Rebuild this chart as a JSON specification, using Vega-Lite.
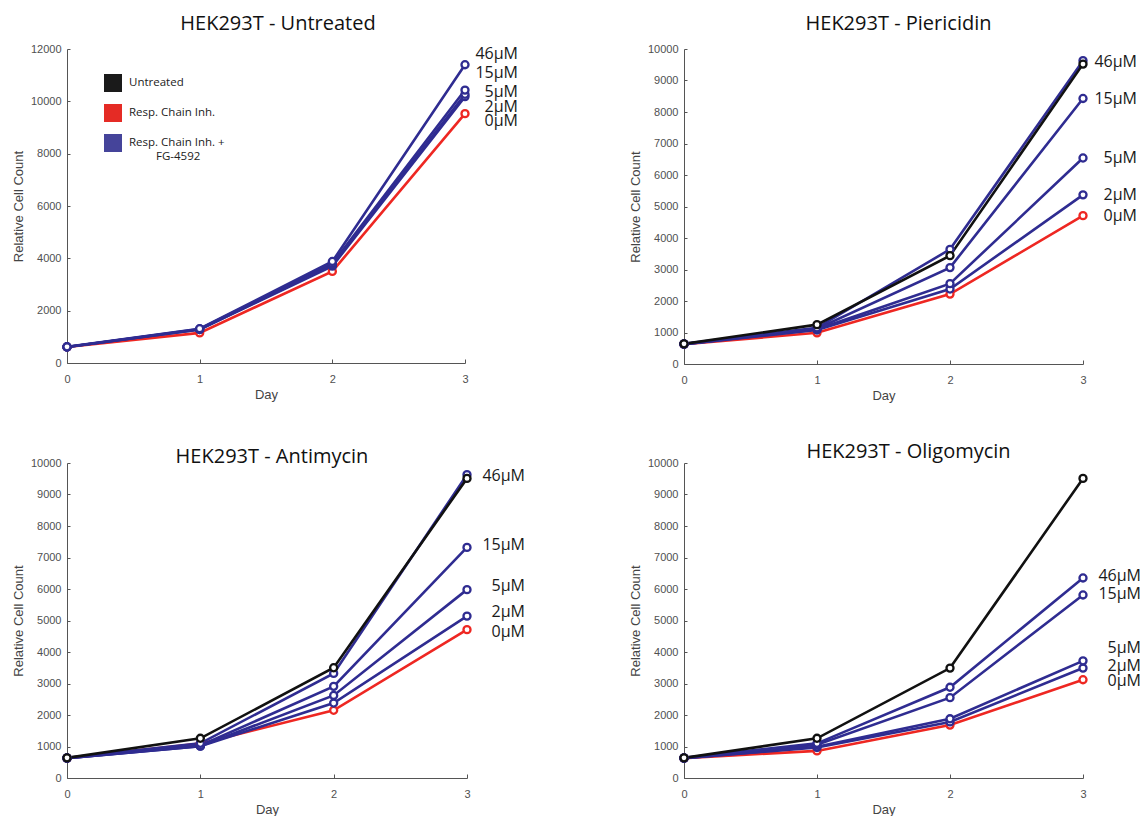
{
  "$schema": "https://vega.github.io/schema/vega-lite/v6.json",
  "background": "white",
  "padding": {"left": 12, "top": 14, "right": 0, "bottom": 0},
  "bounds": "flush",
  "columns": 2,
  "spacing": {"row": 99, "column": 217},
  "resolve": {"scale": {"color": "independent"}},
  "config": {
    "view": {"stroke": null},
    "font": "Open Sans",
    "axis": {
      "grid": false,
      "domainColor": "#555555",
      "tickColor": "#555555",
      "labelColor": "#505050",
      "titleColor": "#444444",
      "labelFont": "Liberation Sans",
      "titleFont": "Liberation Sans",
      "labelFontSize": 11,
      "titleFontSize": 13,
      "titleFontWeight": "normal",
      "labelFlush": false,
      "labelOverlap": false
    },
    "axisX": {"tickSize": -4, "labelPadding": 14, "titlePadding": 4},
    "axisY": {"tickSize": -3, "labelPadding": 9, "titlePadding": 5},
    "title": {"font": "Open Sans", "fontSize": 20, "fontWeight": "normal", "color": "#111111", "frame": "group"}
  },
  "datasets": {
    "series": [
      {"panel": "U", "series": "0µM", "group": "Resp. Chain Inh.", "day": 0, "value": 610},
      {"panel": "U", "series": "0µM", "group": "Resp. Chain Inh.", "day": 1, "value": 1150},
      {"panel": "U", "series": "0µM", "group": "Resp. Chain Inh.", "day": 2, "value": 3500},
      {"panel": "U", "series": "0µM", "group": "Resp. Chain Inh.", "day": 3, "value": 9530},
      {"panel": "U", "series": "2µM", "group": "Resp. Chain Inh. + FG-4592", "day": 0, "value": 610},
      {"panel": "U", "series": "2µM", "group": "Resp. Chain Inh. + FG-4592", "day": 1, "value": 1280},
      {"panel": "U", "series": "2µM", "group": "Resp. Chain Inh. + FG-4592", "day": 2, "value": 3700},
      {"panel": "U", "series": "2µM", "group": "Resp. Chain Inh. + FG-4592", "day": 3, "value": 10180},
      {"panel": "U", "series": "5µM", "group": "Resp. Chain Inh. + FG-4592", "day": 0, "value": 610},
      {"panel": "U", "series": "5µM", "group": "Resp. Chain Inh. + FG-4592", "day": 1, "value": 1280},
      {"panel": "U", "series": "5µM", "group": "Resp. Chain Inh. + FG-4592", "day": 2, "value": 3750},
      {"panel": "U", "series": "5µM", "group": "Resp. Chain Inh. + FG-4592", "day": 3, "value": 10270},
      {"panel": "U", "series": "15µM", "group": "Resp. Chain Inh. + FG-4592", "day": 0, "value": 610},
      {"panel": "U", "series": "15µM", "group": "Resp. Chain Inh. + FG-4592", "day": 1, "value": 1300},
      {"panel": "U", "series": "15µM", "group": "Resp. Chain Inh. + FG-4592", "day": 2, "value": 3800},
      {"panel": "U", "series": "15µM", "group": "Resp. Chain Inh. + FG-4592", "day": 3, "value": 10430},
      {"panel": "U", "series": "46µM", "group": "Resp. Chain Inh. + FG-4592", "day": 0, "value": 620},
      {"panel": "U", "series": "46µM", "group": "Resp. Chain Inh. + FG-4592", "day": 1, "value": 1310},
      {"panel": "U", "series": "46µM", "group": "Resp. Chain Inh. + FG-4592", "day": 2, "value": 3880},
      {"panel": "U", "series": "46µM", "group": "Resp. Chain Inh. + FG-4592", "day": 3, "value": 11400},

      {"panel": "P", "series": "0µM", "group": "Resp. Chain Inh.", "day": 0, "value": 630},
      {"panel": "P", "series": "0µM", "group": "Resp. Chain Inh.", "day": 1, "value": 990},
      {"panel": "P", "series": "0µM", "group": "Resp. Chain Inh.", "day": 2, "value": 2220},
      {"panel": "P", "series": "0µM", "group": "Resp. Chain Inh.", "day": 3, "value": 4710},
      {"panel": "P", "series": "2µM", "group": "Resp. Chain Inh. + FG-4592", "day": 0, "value": 630},
      {"panel": "P", "series": "2µM", "group": "Resp. Chain Inh. + FG-4592", "day": 1, "value": 1080},
      {"panel": "P", "series": "2µM", "group": "Resp. Chain Inh. + FG-4592", "day": 2, "value": 2380},
      {"panel": "P", "series": "2µM", "group": "Resp. Chain Inh. + FG-4592", "day": 3, "value": 5370},
      {"panel": "P", "series": "5µM", "group": "Resp. Chain Inh. + FG-4592", "day": 0, "value": 630},
      {"panel": "P", "series": "5µM", "group": "Resp. Chain Inh. + FG-4592", "day": 1, "value": 1100},
      {"panel": "P", "series": "5µM", "group": "Resp. Chain Inh. + FG-4592", "day": 2, "value": 2550},
      {"panel": "P", "series": "5µM", "group": "Resp. Chain Inh. + FG-4592", "day": 3, "value": 6540},
      {"panel": "P", "series": "15µM", "group": "Resp. Chain Inh. + FG-4592", "day": 0, "value": 630},
      {"panel": "P", "series": "15µM", "group": "Resp. Chain Inh. + FG-4592", "day": 1, "value": 1120},
      {"panel": "P", "series": "15µM", "group": "Resp. Chain Inh. + FG-4592", "day": 2, "value": 3060},
      {"panel": "P", "series": "15µM", "group": "Resp. Chain Inh. + FG-4592", "day": 3, "value": 8430},
      {"panel": "P", "series": "46µM", "group": "Resp. Chain Inh. + FG-4592", "day": 0, "value": 640},
      {"panel": "P", "series": "46µM", "group": "Resp. Chain Inh. + FG-4592", "day": 1, "value": 1150},
      {"panel": "P", "series": "46µM", "group": "Resp. Chain Inh. + FG-4592", "day": 2, "value": 3640},
      {"panel": "P", "series": "46µM", "group": "Resp. Chain Inh. + FG-4592", "day": 3, "value": 9630},
      {"panel": "P", "series": "Untreated", "group": "Untreated", "day": 0, "value": 640},
      {"panel": "P", "series": "Untreated", "group": "Untreated", "day": 1, "value": 1250},
      {"panel": "P", "series": "Untreated", "group": "Untreated", "day": 2, "value": 3440},
      {"panel": "P", "series": "Untreated", "group": "Untreated", "day": 3, "value": 9520},

      {"panel": "A", "series": "0µM", "group": "Resp. Chain Inh.", "day": 0, "value": 630},
      {"panel": "A", "series": "0µM", "group": "Resp. Chain Inh.", "day": 1, "value": 1090},
      {"panel": "A", "series": "0µM", "group": "Resp. Chain Inh.", "day": 2, "value": 2150},
      {"panel": "A", "series": "0µM", "group": "Resp. Chain Inh.", "day": 3, "value": 4710},
      {"panel": "A", "series": "2µM", "group": "Resp. Chain Inh. + FG-4592", "day": 0, "value": 630},
      {"panel": "A", "series": "2µM", "group": "Resp. Chain Inh. + FG-4592", "day": 1, "value": 1010},
      {"panel": "A", "series": "2µM", "group": "Resp. Chain Inh. + FG-4592", "day": 2, "value": 2380},
      {"panel": "A", "series": "2µM", "group": "Resp. Chain Inh. + FG-4592", "day": 3, "value": 5140},
      {"panel": "A", "series": "5µM", "group": "Resp. Chain Inh. + FG-4592", "day": 0, "value": 630},
      {"panel": "A", "series": "5µM", "group": "Resp. Chain Inh. + FG-4592", "day": 1, "value": 1010},
      {"panel": "A", "series": "5µM", "group": "Resp. Chain Inh. + FG-4592", "day": 2, "value": 2620},
      {"panel": "A", "series": "5µM", "group": "Resp. Chain Inh. + FG-4592", "day": 3, "value": 5980},
      {"panel": "A", "series": "15µM", "group": "Resp. Chain Inh. + FG-4592", "day": 0, "value": 630},
      {"panel": "A", "series": "15µM", "group": "Resp. Chain Inh. + FG-4592", "day": 1, "value": 1030},
      {"panel": "A", "series": "15µM", "group": "Resp. Chain Inh. + FG-4592", "day": 2, "value": 2910},
      {"panel": "A", "series": "15µM", "group": "Resp. Chain Inh. + FG-4592", "day": 3, "value": 7320},
      {"panel": "A", "series": "46µM", "group": "Resp. Chain Inh. + FG-4592", "day": 0, "value": 640},
      {"panel": "A", "series": "46µM", "group": "Resp. Chain Inh. + FG-4592", "day": 1, "value": 1100},
      {"panel": "A", "series": "46µM", "group": "Resp. Chain Inh. + FG-4592", "day": 2, "value": 3320},
      {"panel": "A", "series": "46µM", "group": "Resp. Chain Inh. + FG-4592", "day": 3, "value": 9630},
      {"panel": "A", "series": "Untreated", "group": "Untreated", "day": 0, "value": 640},
      {"panel": "A", "series": "Untreated", "group": "Untreated", "day": 1, "value": 1260},
      {"panel": "A", "series": "Untreated", "group": "Untreated", "day": 2, "value": 3500},
      {"panel": "A", "series": "Untreated", "group": "Untreated", "day": 3, "value": 9510},

      {"panel": "O", "series": "0µM", "group": "Resp. Chain Inh.", "day": 0, "value": 630},
      {"panel": "O", "series": "0µM", "group": "Resp. Chain Inh.", "day": 1, "value": 860},
      {"panel": "O", "series": "0µM", "group": "Resp. Chain Inh.", "day": 2, "value": 1680},
      {"panel": "O", "series": "0µM", "group": "Resp. Chain Inh.", "day": 3, "value": 3120},
      {"panel": "O", "series": "2µM", "group": "Resp. Chain Inh. + FG-4592", "day": 0, "value": 630},
      {"panel": "O", "series": "2µM", "group": "Resp. Chain Inh. + FG-4592", "day": 1, "value": 970},
      {"panel": "O", "series": "2µM", "group": "Resp. Chain Inh. + FG-4592", "day": 2, "value": 1780},
      {"panel": "O", "series": "2µM", "group": "Resp. Chain Inh. + FG-4592", "day": 3, "value": 3490},
      {"panel": "O", "series": "5µM", "group": "Resp. Chain Inh. + FG-4592", "day": 0, "value": 630},
      {"panel": "O", "series": "5µM", "group": "Resp. Chain Inh. + FG-4592", "day": 1, "value": 990},
      {"panel": "O", "series": "5µM", "group": "Resp. Chain Inh. + FG-4592", "day": 2, "value": 1880},
      {"panel": "O", "series": "5µM", "group": "Resp. Chain Inh. + FG-4592", "day": 3, "value": 3720},
      {"panel": "O", "series": "15µM", "group": "Resp. Chain Inh. + FG-4592", "day": 0, "value": 630},
      {"panel": "O", "series": "15µM", "group": "Resp. Chain Inh. + FG-4592", "day": 1, "value": 1060},
      {"panel": "O", "series": "15µM", "group": "Resp. Chain Inh. + FG-4592", "day": 2, "value": 2550},
      {"panel": "O", "series": "15µM", "group": "Resp. Chain Inh. + FG-4592", "day": 3, "value": 5810},
      {"panel": "O", "series": "46µM", "group": "Resp. Chain Inh. + FG-4592", "day": 0, "value": 640},
      {"panel": "O", "series": "46µM", "group": "Resp. Chain Inh. + FG-4592", "day": 1, "value": 1100},
      {"panel": "O", "series": "46µM", "group": "Resp. Chain Inh. + FG-4592", "day": 2, "value": 2880},
      {"panel": "O", "series": "46µM", "group": "Resp. Chain Inh. + FG-4592", "day": 3, "value": 6350},
      {"panel": "O", "series": "Untreated", "group": "Untreated", "day": 0, "value": 640},
      {"panel": "O", "series": "Untreated", "group": "Untreated", "day": 1, "value": 1260},
      {"panel": "O", "series": "Untreated", "group": "Untreated", "day": 2, "value": 3490},
      {"panel": "O", "series": "Untreated", "group": "Untreated", "day": 3, "value": 9510}
    ],
    "labels": [
      {"panel": "U", "label": "46µM", "day": 3, "value": 11800},
      {"panel": "U", "label": "15µM", "day": 3, "value": 11070},
      {"panel": "U", "label": "5µM", "day": 3, "value": 10370},
      {"panel": "U", "label": "2µM", "day": 3, "value": 9800},
      {"panel": "U", "label": "0µM", "day": 3, "value": 9250},
      {"panel": "P", "label": "46µM", "day": 3, "value": 9600},
      {"panel": "P", "label": "15µM", "day": 3, "value": 8420},
      {"panel": "P", "label": "5µM", "day": 3, "value": 6530},
      {"panel": "P", "label": "2µM", "day": 3, "value": 5370},
      {"panel": "P", "label": "0µM", "day": 3, "value": 4700},
      {"panel": "A", "label": "46µM", "day": 3, "value": 9600},
      {"panel": "A", "label": "15µM", "day": 3, "value": 7400},
      {"panel": "A", "label": "5µM", "day": 3, "value": 6080},
      {"panel": "A", "label": "2µM", "day": 3, "value": 5260},
      {"panel": "A", "label": "0µM", "day": 3, "value": 4650},
      {"panel": "O", "label": "46µM", "day": 3, "value": 6420},
      {"panel": "O", "label": "15µM", "day": 3, "value": 5840},
      {"panel": "O", "label": "5µM", "day": 3, "value": 4120},
      {"panel": "O", "label": "2µM", "day": 3, "value": 3570},
      {"panel": "O", "label": "0µM", "day": 3, "value": 3070}
    ]
  },
  "concat": [
    {
      "title": {"text": "HEK293T - Untreated", "offset": 9, "dx": 12},
      "width": 398, "height": 314,
      "encoding": {
        "x": {"field": "day", "type": "quantitative", "scale": {"domain": [0, 3], "nice": false},
              "axis": {"title": "Day", "values": [0, 0.5, 1, 1.5, 2, 2.5, 3], "format": "d", "labelOverlap": false, "labelExpr": "datum.value % 1 == 0 ? datum.label : ''"}},
        "y": {"field": "value", "type": "quantitative", "scale": {"domain": [0, 12000], "nice": false},
              "axis": {"title": "Relative Cell Count", "values": [0, 2000, 4000, 6000, 8000, 10000, 12000], "tickCount": 7, "format": "d", "labelOverlap": false}}
      },
      "layer": [
        {
          "data": {"name": "series"},
          "transform": [{"filter": "datum.panel == 'U'"}],
          "mark": {"type": "line", "strokeWidth": 2.6},
          "encoding": {
            "color": {"field": "group", "type": "nominal",
                      "scale": {"domain": ["Untreated", "Resp. Chain Inh.", "Resp. Chain Inh. + FG-4592"], "range": ["#111111", "#ee2722", "#2f2c91"]},
                      "legend": {
                        "title": null, "orient": "none", "legendX": 37, "legendY": 25, "padding": 0,
                        "symbolType": "square", "symbolSize": 324, "symbolStrokeWidth": 0,
                        "labelFont": "Open Sans", "labelFontSize": 11.5, "labelColor": "#222222", "labelOffset": 7,
                        "rowPadding": 12, "labelLimit": 300,
                        "labelExpr": "datum.label == 'Resp. Chain Inh. + FG-4592' ? ['Resp. Chain Inh. +', '\u2800\u2800\u2800FG-4592'] : datum.label",
                        "encode": {
                          "symbols": {"update": {"fill": {"signal": "datum.value == 'Untreated' ? '#1a1a1a' : datum.value == 'Resp. Chain Inh.' ? '#e52b25' : '#45449a'"}, "stroke": {"value": "transparent"}, "shape": {"value": "square"}}},
                          "labels": {"update": {"lineHeight": {"value": 14}}}
                        }
                      }},
            "detail": {"field": "series"}
          }
        },
        {
          "data": {"name": "series"},
          "transform": [{"filter": "datum.panel == 'U'"}],
          "mark": {"type": "point", "filled": false, "fill": "white", "size": 50, "strokeWidth": 2.3, "opacity": 1},
          "encoding": {
            "color": {"field": "group", "type": "nominal", "legend": null},
            "detail": {"field": "series"}
          }
        },
        {
          "data": {"name": "labels"},
          "transform": [{"filter": "datum.panel == 'U'"}],
          "mark": {"type": "text", "align": "right", "baseline": "middle", "dx": 53, "fontSize": 16, "font": "Open Sans", "color": "#1a1a1a"},
          "encoding": {"text": {"field": "label"}}
        }
      ]
    },
    {
      "title": {"text": "HEK293T - Piericidin", "offset": 9, "dx": 15},
      "width": 399, "height": 315,
      "encoding": {
        "x": {"field": "day", "type": "quantitative", "scale": {"domain": [0, 3], "nice": false},
              "axis": {"title": "Day", "values": [0, 0.5, 1, 1.5, 2, 2.5, 3], "format": "d", "labelOverlap": false, "labelExpr": "datum.value % 1 == 0 ? datum.label : ''"}},
        "y": {"field": "value", "type": "quantitative", "scale": {"domain": [0, 10000], "nice": false},
              "axis": {"title": "Relative Cell Count", "values": [0, 1000, 2000, 3000, 4000, 5000, 6000, 7000, 8000, 9000, 10000], "tickCount": 11, "format": "d", "labelOverlap": false}}
      },
      "layer": [
        {
          "data": {"name": "series"},
          "transform": [{"filter": "datum.panel == 'P'"}],
          "mark": {"type": "line", "strokeWidth": 2.6},
          "encoding": {
            "color": {"field": "group", "type": "nominal",
                      "scale": {"domain": ["Untreated", "Resp. Chain Inh.", "Resp. Chain Inh. + FG-4592"], "range": ["#111111", "#ee2722", "#2f2c91"]},
                      "legend": null},
            "detail": {"field": "series"}
          }
        },
        {
          "data": {"name": "series"},
          "transform": [{"filter": "datum.panel == 'P'"}],
          "mark": {"type": "point", "filled": false, "fill": "white", "size": 50, "strokeWidth": 2.3, "opacity": 1},
          "encoding": {
            "color": {"field": "group", "type": "nominal", "legend": null},
            "detail": {"field": "series"}
          }
        },
        {
          "data": {"name": "labels"},
          "transform": [{"filter": "datum.panel == 'P'"}],
          "mark": {"type": "text", "align": "right", "baseline": "middle", "dx": 54, "fontSize": 16, "font": "Open Sans", "color": "#1a1a1a"},
          "encoding": {"text": {"field": "label"}}
        }
      ]
    },
    {
      "title": {"text": "HEK293T - Antimycin", "offset": -10, "dx": 5},
      "width": 400, "height": 315,
      "encoding": {
        "x": {"field": "day", "type": "quantitative", "scale": {"domain": [0, 3], "nice": false},
              "axis": {"title": "Day", "values": [0, 0.5, 1, 1.5, 2, 2.5, 3], "format": "d", "labelOverlap": false, "labelExpr": "datum.value % 1 == 0 ? datum.label : ''"}},
        "y": {"field": "value", "type": "quantitative", "scale": {"domain": [0, 10000], "nice": false},
              "axis": {"title": "Relative Cell Count", "values": [0, 1000, 2000, 3000, 4000, 5000, 6000, 7000, 8000, 9000, 10000], "tickCount": 11, "format": "d", "labelOverlap": false}}
      },
      "layer": [
        {
          "data": {"name": "series"},
          "transform": [{"filter": "datum.panel == 'A'"}],
          "mark": {"type": "line", "strokeWidth": 2.6},
          "encoding": {
            "color": {"field": "group", "type": "nominal",
                      "scale": {"domain": ["Untreated", "Resp. Chain Inh.", "Resp. Chain Inh. + FG-4592"], "range": ["#111111", "#ee2722", "#2f2c91"]},
                      "legend": null},
            "detail": {"field": "series"}
          }
        },
        {
          "data": {"name": "series"},
          "transform": [{"filter": "datum.panel == 'A'"}],
          "mark": {"type": "point", "filled": false, "fill": "white", "size": 50, "strokeWidth": 2.3, "opacity": 1},
          "encoding": {
            "color": {"field": "group", "type": "nominal", "legend": null},
            "detail": {"field": "series"}
          }
        },
        {
          "data": {"name": "labels"},
          "transform": [{"filter": "datum.panel == 'A'"}],
          "mark": {"type": "text", "align": "right", "baseline": "middle", "dx": 58, "fontSize": 16, "font": "Open Sans", "color": "#1a1a1a"},
          "encoding": {"text": {"field": "label"}}
        }
      ]
    },
    {
      "title": {"text": "HEK293T - Oligomycin", "offset": -5, "dx": 25},
      "width": 399, "height": 315,
      "encoding": {
        "x": {"field": "day", "type": "quantitative", "scale": {"domain": [0, 3], "nice": false},
              "axis": {"title": "Day", "values": [0, 0.5, 1, 1.5, 2, 2.5, 3], "format": "d", "labelOverlap": false, "labelExpr": "datum.value % 1 == 0 ? datum.label : ''"}},
        "y": {"field": "value", "type": "quantitative", "scale": {"domain": [0, 10000], "nice": false},
              "axis": {"title": "Relative Cell Count", "values": [0, 1000, 2000, 3000, 4000, 5000, 6000, 7000, 8000, 9000, 10000], "tickCount": 11, "format": "d", "labelOverlap": false}}
      },
      "layer": [
        {
          "data": {"name": "series"},
          "transform": [{"filter": "datum.panel == 'O'"}],
          "mark": {"type": "line", "strokeWidth": 2.6},
          "encoding": {
            "color": {"field": "group", "type": "nominal",
                      "scale": {"domain": ["Untreated", "Resp. Chain Inh.", "Resp. Chain Inh. + FG-4592"], "range": ["#111111", "#ee2722", "#2f2c91"]},
                      "legend": null},
            "detail": {"field": "series"}
          }
        },
        {
          "data": {"name": "series"},
          "transform": [{"filter": "datum.panel == 'O'"}],
          "mark": {"type": "point", "filled": false, "fill": "white", "size": 50, "strokeWidth": 2.3, "opacity": 1},
          "encoding": {
            "color": {"field": "group", "type": "nominal", "legend": null},
            "detail": {"field": "series"}
          }
        },
        {
          "data": {"name": "labels"},
          "transform": [{"filter": "datum.panel == 'O'"}],
          "mark": {"type": "text", "align": "right", "baseline": "middle", "dx": 58, "fontSize": 16, "font": "Open Sans", "color": "#1a1a1a"},
          "encoding": {"text": {"field": "label"}}
        }
      ]
    }
  ]
}
